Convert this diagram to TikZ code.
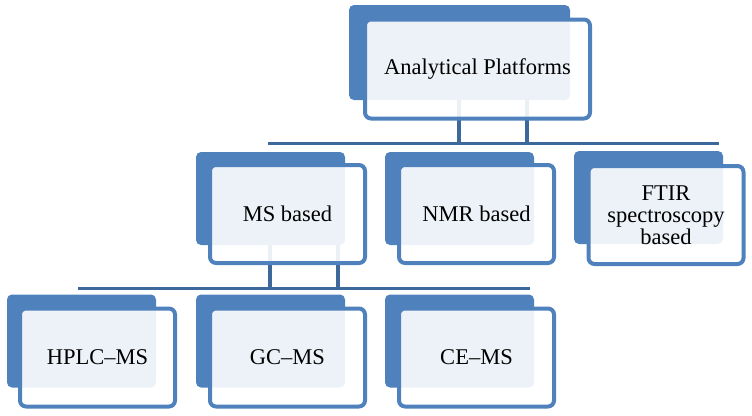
\documentclass[tikz,border=0pt]{standalone}
\usepackage{fontspec}
\setmainfont{Liberation Serif}
\definecolor{bblue}{HTML}{4F81BD}
\definecolor{lblue}{HTML}{3D689C}
\begin{document}
\begin{tikzpicture}[x=1pt,y=-1pt,
 back/.style={rectangle, rounded corners=5pt, fill=bblue, draw=none, inner sep=0pt, minimum width=149pt, minimum height=93pt},
 front/.style={rectangle, rounded corners=6pt, draw=bblue, line width=4pt, fill=white, fill opacity=0.9, text opacity=1, align=center, inner sep=0pt, minimum width=155pt, minimum height=98pt, font=\fontsize{22.5}{22}\selectfont},
 conn/.style={draw=lblue, line width=3pt},
 vconn/.style={draw=lblue, line width=4pt}]
\useasboundingbox (0,0) rectangle (752,415);
% connector coordinates
\coordinate (h1L) at (268,143);
\coordinate (h1R) at (719,143);
\coordinate (v1) at (459,143);
\coordinate (v2) at (527,143);
\coordinate (h2L) at (78,288);
\coordinate (h2R) at (530,288);
\coordinate (v3) at (270,288);
\coordinate (v4) at (338,288);
% back boxes
\node[back, minimum width=221pt, minimum height=95pt] (topb) at (459.5,52.5) {};
\node[back] (msb) at (270.5,198.5) {};
\node[back] (nmrb) at (459.5,198.5) {};
\node[back] (ftirb) at (648.5,197.5) {};
\node[back] (hplcb) at (81.5,341) {};
\node[back] (gcb) at (270.5,341) {};
\node[back] (ceb) at (459.5,341) {};
% connectors
\draw[conn] (h1L) -- (h1R);
\draw[vconn] (v1 |- topb.south) -- (v1);
\draw[vconn] (v2 |- topb.south) -- (v2);
\draw[conn] (h2L) -- (h2R);
\draw[vconn] (v3 |- msb.south) -- (v3);
\draw[vconn] (v4 |- msb.south) -- (v4);
% front boxes
\node[front, minimum width=225pt, minimum height=99pt] (top) at (477.5,69) {Analytical Platforms};
\node[front] (ms) at (287.5,214) {MS based};
\node[front] (nmr) at (476.5,214) {NMR based};
\node[front] (ftir) at (666,215) {FTIR\\spectroscopy\\based};
\node[front] (hplc) at (97.5,357.5) {HPLC–MS};
\node[front] (gc) at (287.5,357.5) {GC–MS};
\node[front] (ce) at (476.5,357.5) {CE–MS};
\end{tikzpicture}
\end{document}
